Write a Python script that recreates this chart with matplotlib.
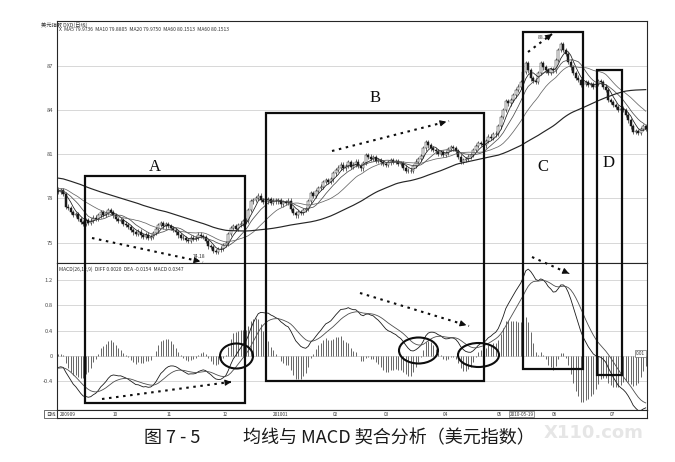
import numpy as np
import pandas as pd
import matplotlib
matplotlib.use("Agg")
import matplotlib.pyplot as plt
from matplotlib.patches import Rectangle, Ellipse

plt.rcParams["font.family"] = ["Noto Sans CJK SC", "DejaVu Sans"]
plt.rcParams["axes.unicode_minus"] = False


# 2009-06 ~ 2009-08, only used to warm up the MA60 / MACD
warmup_close = [
    79.90, 80.10, 80.45, 80.30, 80.60, 80.20, 79.85, 80.05, 80.40, 80.70,
    80.55, 80.20, 80.35, 80.05, 80.25, 80.50, 80.40, 80.10, 79.95, 80.20,
    80.35, 80.15, 79.90, 79.65, 79.80, 79.55, 79.20, 79.05, 78.90, 79.00,
    78.75, 78.95, 79.20, 79.10, 78.65, 78.50, 78.60, 78.80, 79.05, 78.90,
    78.70, 78.45, 78.60, 79.10, 79.30, 79.15, 78.85, 78.70, 78.95, 78.80,
    78.55, 78.35, 78.50, 78.65, 78.45, 78.70, 78.55, 78.40, 78.60,
]

# daily close, 2009-09 ~ 2010-07
close = [
    78.45, 78.55, 78.30, 77.45, 77.35, 77.10, 76.90, 76.95, 76.60, 76.40,
    76.30, 76.55, 76.35, 76.50, 76.70, 76.60, 76.85, 77.05, 76.90, 77.00,
    77.20, 77.10, 76.85, 76.60, 76.50, 76.55, 76.30, 76.20, 76.05, 75.85,
    75.70, 75.60, 75.75, 75.50, 75.40, 75.55, 75.30, 75.40, 75.65, 75.90,
    76.20, 76.35, 76.10, 76.25, 76.15, 76.00, 75.85, 75.70, 75.50, 75.35,
    75.30, 75.20, 75.10, 75.35, 75.25, 75.30, 75.55, 75.45, 75.40, 75.10,
    74.75, 74.70, 74.45, 74.40, 74.55, 74.60, 74.85, 74.95, 75.60, 76.00,
    76.10, 75.95, 76.20, 76.30, 76.45, 76.50, 77.20, 77.80, 77.90, 78.05,
    78.20, 77.90, 77.75, 77.80, 77.95, 77.70, 77.85, 77.80, 77.90, 77.60,
    77.75, 77.70, 77.85, 77.30, 77.00, 76.85, 77.10, 77.00, 77.20, 77.30,
    77.80, 78.35, 78.20, 78.50, 78.70, 78.80, 79.10, 79.25, 79.10, 79.30,
    79.70, 79.95, 80.10, 80.30, 80.05, 80.20, 80.45, 80.15, 80.30, 80.50,
    80.20, 80.05, 80.40, 80.95, 80.85, 80.70, 80.80, 80.55, 80.60, 80.45,
    80.35, 80.30, 80.45, 80.60, 80.50, 80.55, 80.35, 80.40, 80.10, 79.90,
    79.85, 79.90, 80.20, 80.50, 80.70, 80.90, 81.40, 81.85, 81.60, 81.40,
    81.30, 81.20, 81.05, 81.15, 80.95, 81.10, 81.35, 81.50, 81.40, 81.20,
    80.85, 80.50, 80.60, 80.70, 80.85, 80.95, 81.30, 81.55, 81.75, 81.70,
    81.60, 81.90, 82.20, 82.10, 82.35, 82.40, 82.90, 83.55, 84.00, 84.60,
    84.45, 84.70, 85.00, 85.35, 85.60, 85.90, 86.60, 87.20, 86.70, 86.15,
    86.00, 85.90, 86.50, 87.20, 86.90, 86.70, 86.50, 86.80, 86.70, 87.40,
    88.10, 88.50, 88.10, 87.80, 87.30, 86.90, 86.50, 86.20, 86.05, 85.70,
    85.80, 85.90, 85.70, 85.75, 85.60, 85.80, 85.95, 85.90, 85.60, 85.35,
    84.70, 84.55, 84.35, 84.20, 84.00, 84.10, 84.00, 83.70, 83.30, 82.90,
    82.50, 82.60, 82.45, 82.70, 82.90, 82.75,
]

month_labels = ["200909", "10", "11", "12", "201001", "02", "03", "04", "05", "06", "07"]
month_pos = [0.5, 21.9, 43.2, 65.9, 85.9, 109.9, 130.1, 153.9, 175.5, 197.5, 220.5]
price_ticks = [75, 78, 81, 84, 87]
macd_ticks = [-0.4, 0, 0.4, 0.8, 1.2]
macd_tick_labels = ["-0.4", "0", "0.4", "0.8", "1.2"]
ma_windows = [5, 10, 20, 60]
low_label = "74.18"
high_label = "88.71"

ma_header = "X  MA5 79.9736  MA10 79.8805  MA20 79.9750  MA60 80.1513  MA60 80.1513"
macd_header = "MACD(26,12,9)  DIFF 0.0020  DEA -0.0154  MACD 0.0347"


# ---------- derived series ----------
n_warm = len(warmup_close)
full = pd.Series(warmup_close + close)
closes = np.array(close)
opens = full.shift(1).values[n_warm:]
wick = 0.15
highs = np.maximum(opens, closes) + wick
lows = np.minimum(opens, closes) - wick
idx = np.arange(len(close))

mas = {w: full.rolling(w).mean().values[n_warm:] for w in ma_windows}

ema12 = full.ewm(span=12, adjust=False).mean()
ema26 = full.ewm(span=26, adjust=False).mean()
diff = ema12 - ema26
dea = diff.ewm(span=9, adjust=False).mean()
hist = 2 * (diff - dea)
diff = diff.values[n_warm:]
dea = dea.values[n_warm:]
hist = hist.values[n_warm:]


# ---------- layout (pixel based) ----------
W, H = 675, 462
fig = plt.figure(figsize=(W / 100, H / 100), dpi=100)
fig.patch.set_facecolor("white")


def frac(x0, y0, x1, y1):
    return [x0 / W, 1 - y1 / H, (x1 - x0) / W, (y1 - y0) / H]


ax_p = fig.add_axes(frac(57, 21, 647, 263))
ax_m = fig.add_axes(frac(57, 263, 647, 410))
ax_t = fig.add_axes(frac(57, 410, 647, 418))

for ax in (ax_p, ax_m, ax_t):
    ax.set_xlim(-0.5, len(close) - 0.5)
    ax.set_xticks([])
    for s in ax.spines.values():
        s.set_linewidth(0.8)
        s.set_color("0.15")
    ax.tick_params(axis="y", length=0, labelsize=4.2, labelcolor="0.3", pad=3)

# price panel
ax_p.set_ylim(73.62, 90.05)
ax_p.set_yticks(price_ticks)
ax_p.set_yticklabels([str(t) for t in price_ticks])
ax_p.grid(axis="y", color="0.78", lw=0.5)
ax_p.set_axisbelow(True)

ax_p.vlines(idx, lows, highs, color="0.1", lw=0.45, zorder=2)
up = closes >= opens
body_h = np.maximum(np.abs(closes - opens), 0.04)
body_b = np.minimum(opens, closes)
ax_p.bar(idx, body_h, bottom=body_b, width=0.65,
         color=np.where(up, "white", "0.1"), edgecolor="0.1", lw=0.35, zorder=3)

ma_style = {5: ("0.1", 0.55), 10: ("0.3", 0.55), 20: ("0.4", 0.55), 60: ("0.15", 0.85)}
for w in ma_windows:
    c, lw = ma_style[w]
    ax_p.plot(idx, mas[w], color=c, lw=lw, zorder=4)

ax_p.text(0.004, 0.975, ma_header, transform=ax_p.transAxes,
          fontsize=3.6, va="top", ha="left", color="0.2")

i_lo = int(np.argmin(lows))
ax_p.text(i_lo - 4, lows[i_lo] - 0.05, low_label, fontsize=3.6,
          ha="right", va="top", color="0.2")
i_hi = int(np.argmax(highs))
ax_p.text(i_hi - 4, highs[i_hi] + 0.1, high_label, fontsize=3.6,
          ha="right", va="bottom", color="0.2")

# MACD panel
ax_m.set_ylim(-0.854, 1.47)
ax_m.set_yticks(macd_ticks)
ax_m.set_yticklabels(macd_tick_labels)
ax_m.grid(axis="y", color="0.78", lw=0.5)
ax_m.set_axisbelow(True)
ax_m.vlines(idx, 0, hist, color="0.3", lw=0.6, zorder=2)
ax_m.plot(idx, diff, color="0.1", lw=0.6, zorder=3)
ax_m.plot(idx, dea, color="0.3", lw=0.6, zorder=3)
ax_m.text(0.004, 0.975, macd_header, transform=ax_m.transAxes,
          fontsize=3.6, va="top", ha="left", color="0.2")
ax_m.text(0.997, 0.0, "0.01", transform=ax_m.get_yaxis_transform(),
          fontsize=3.4, ha="right", va="bottom", color="0.2",
          bbox=dict(boxstyle="square,pad=0.2", fc="white", ec="0.3", lw=0.4))

# time strip
ax_t.set_ylim(0, 1)
ax_t.set_yticks([])
for lab, pos in zip(month_labels, month_pos):
    ax_t.text(pos, 0.5, lab, fontsize=3.4, ha="left", va="center", color="0.2")
ax_t.text(180.5, 0.5, "2010-05-19", fontsize=3.4, ha="left", va="center", color="0.2",
          bbox=dict(boxstyle="square,pad=0.15", fc="white", ec="0.3", lw=0.4))


# ---------- overlay for the hand drawn marks ----------
ov = fig.add_axes([0, 0, 1, 1])
ov.set_xlim(0, W)
ov.set_ylim(H, 0)
ov.axis("off")
ov.patch.set_alpha(0)
ov.set_zorder(10)

ov.text(41, 25, "美元指数 DXD(日线)", fontsize=3.8, ha="left", va="center", color="0.2")
ov.add_patch(Rectangle((44, 410), 13, 8, fill=False, ec="0.2", lw=0.5))
ov.text(50.5, 414, "日线", fontsize=3.4, ha="center", va="center", color="0.2")

boxes = [(84.5, 176, 245, 403), (265.5, 112.5, 484, 381),
         (522.5, 31.5, 583, 368.5), (596.5, 70, 622, 374.5)]
for x0, y0, x1, y1 in boxes:
    ov.add_patch(Rectangle((x0, y0), x1 - x0, y1 - y0, fill=False, ec="0.05", lw=1.6))

for lab, x, y in [("A", 155, 167), ("B", 375, 98), ("C", 543, 167), ("D", 609, 163)]:
    ov.text(x, y, lab, fontsize=12, ha="center", va="center",
            family="Liberation Serif", color="0.05")


def dotted_arrow(x0, y0, x1, y1):
    ov.plot([x0, x1], [y0, y1], ls=(0, (1.2, 2.2)), lw=1.5, color="0.05")
    ov.annotate("", xy=(x1, y1), xytext=(x1 - (x1 - x0) * 0.07, y1 - (y1 - y0) * 0.07),
                arrowprops=dict(arrowstyle="-|>", color="0.05", lw=0.8, mutation_scale=9))


dotted_arrow(92, 238, 203, 262)
dotted_arrow(102, 399, 234, 381.5)
dotted_arrow(332, 151, 449, 121)
dotted_arrow(360, 293, 469, 326)
dotted_arrow(528, 52, 552, 34)
dotted_arrow(532, 257, 569, 273.5)

for cx, cy, w, h in [(236.5, 356, 33, 25), (418.5, 350.5, 39, 26), (478.5, 355, 41, 24)]:
    ov.add_patch(Ellipse((cx, cy), w, h, fill=False, ec="0.05", lw=1.5))

ov.text(594, 433, "X110.com", fontsize=13, fontweight="bold", color="0.9",
        ha="center", va="center", family="DejaVu Sans")

ov.text(144, 438, "图 7 - 5", fontsize=13, ha="left", va="center", color="0.1")
ov.text(243, 438, "均线与 MACD 契合分析（美元指数）", fontsize=13,
        ha="left", va="center", color="0.1")

fig.savefig("out.png", dpi=100)
